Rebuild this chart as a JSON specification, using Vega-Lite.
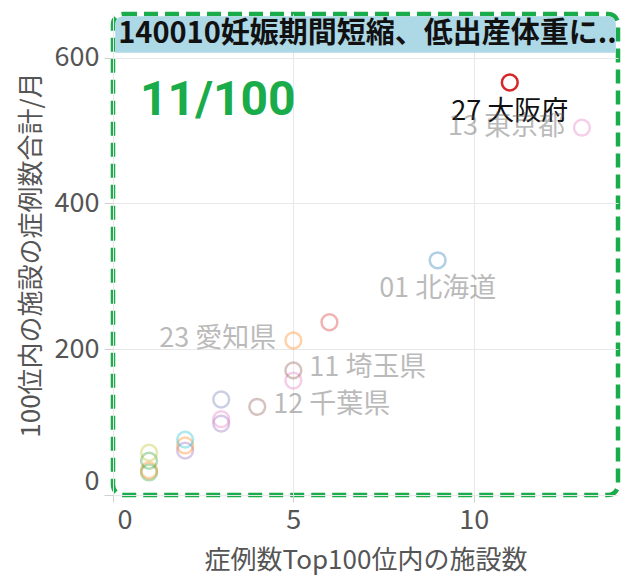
{
  "$schema": "https://vega.github.io/schema/vega-lite/v6.json",
  "autosize": "none",
  "padding": {"left": 113, "top": 14, "right": 7, "bottom": 89},
  "width": 505,
  "height": 481,
  "config": {
    "font": "Noto Sans CJK JP",
    "view": {"stroke": "#1aab4b", "strokeWidth": 4.5, "strokeDash": [14, 7], "cornerRadius": 10},
    "axis": {
      "labelFontSize": 27,
      "labelColor": "#555555",
      "titleFontSize": 26,
      "titleColor": "#555555",
      "titleFontWeight": "normal",
      "gridColor": "#e8e8e8",
      "tickColor": "#d0d0d0",
      "domain": false
    }
  },
  "layer": [
    {
      "data": {"values": [{}]},
      "mark": {"type": "rect", "fill": "#add8e6", "cornerRadiusTopLeft": 8, "cornerRadiusTopRight": 8},
      "encoding": {
        "x": {"datum": 0.06, "type": "quantitative", "scale": {"domain": [0, 14], "nice": false}},
        "x2": {"datum": 13.94},
        "y": {"datum": 607, "type": "quantitative", "scale": {"domain": [0, 660], "nice": false}},
        "y2": {"datum": 657}
      }
    },
    {
      "data": {"values": [{"title": "140010妊娠期間短縮、低出産体重に.."}]},
      "mark": {"type": "text", "align": "left", "baseline": "middle", "fontSize": 29, "fontWeight": "bold", "color": "#111111", "dx": 3},
      "encoding": {
        "x": {"datum": 0.06, "type": "quantitative"},
        "y": {"datum": 632, "type": "quantitative"},
        "text": {"field": "title"}
      }
    },
    {
      "data": {"values": [{"t": "11/100"}]},
      "mark": {"type": "text", "align": "left", "baseline": "middle", "fontSize": 48, "fontWeight": "bold", "color": "#1aab4b", "font": "Roboto"},
      "encoding": {
        "x": {"datum": 0.75, "type": "quantitative"},
        "y": {"datum": 540, "type": "quantitative"},
        "text": {"field": "t"}
      }
    },
    {
      "data": {"name": "pts"},
      "layer": [
        {
          "mark": {"type": "point", "shape": "circle", "filled": false, "strokeWidth": 2.5, "size": 250},
          "encoding": {
            "x": {
              "field": "n", "type": "quantitative",
              "scale": {"domain": [0, 14], "nice": false},
              "axis": {"title": "症例数Top100位内の施設数", "values": [0, 5, 10], "grid": true, "tickSize": 7, "labelPadding": 5, "titlePadding": 14, "labelFlush": true, "labelFlushOffset": -4}
            },
            "y": {
              "field": "cases", "type": "quantitative",
              "scale": {"domain": [0, 660], "nice": false},
              "axis": {"title": "100位内の施設の症例数合計/月", "values": [0, 200, 400, 600], "grid": true, "tickSize": 9, "labelPadding": 5, "titlePadding": 10, "labelFlush": true}
            },
            "color": {
              "field": "pref", "type": "nominal", "legend": null,
              "scale": {
                "domain": ["大阪府", "東京都", "北海道", "愛知県", "神奈川県", "埼玉県", "福岡県", "千葉県", "兵庫県", "京都府", "宮城県", "静岡県", "新潟県", "広島県", "長野県", "茨城県", "岡山県", "熊本県"],
                "range": ["#d62728", "#e377c2", "#1f77b4", "#ff7f0e", "#d62728", "#8c564b", "#e377c2", "#8c564b", "#6b78b4", "#e377c2", "#9467bd", "#17becf", "#ff7f0e", "#9467bd", "#bcbd22", "#2ca02c", "#ff7f0e", "#2ca02c"]
              }
            },
            "opacity": {"condition": {"test": "datum.pref === '大阪府'", "value": 1}, "value": 0.35}
          }
        },
        {
          "transform": [{"filter": {"field": "pref", "oneOf": ["大阪府", "北海道"]}}],
          "mark": {"type": "text", "align": "center", "baseline": "middle", "fontSize": 27, "dy": 29},
          "encoding": {
            "x": {"field": "n", "type": "quantitative"},
            "y": {"field": "cases", "type": "quantitative"},
            "text": {"field": "label"},
            "color": {"condition": {"test": "datum.pref === '大阪府'", "value": "#111111"}, "value": "#555555"},
            "opacity": {"condition": {"test": "datum.pref === '大阪府'", "value": 1}, "value": 0.4}
          }
        },
        {
          "transform": [{"filter": {"field": "pref", "oneOf": ["東京都", "愛知県"]}}],
          "mark": {"type": "text", "align": "right", "baseline": "middle", "fontSize": 27, "dx": -17, "dy": -1, "color": "#555555", "opacity": 0.4},
          "encoding": {
            "x": {"field": "n", "type": "quantitative"},
            "y": {"field": "cases", "type": "quantitative"},
            "text": {"field": "label"}
          }
        },
        {
          "transform": [{"filter": {"field": "pref", "oneOf": ["埼玉県", "千葉県"]}}],
          "mark": {"type": "text", "align": "left", "baseline": "middle", "fontSize": 27, "dx": 16, "dy": -2, "color": "#555555", "opacity": 0.4},
          "encoding": {
            "x": {"field": "n", "type": "quantitative"},
            "y": {"field": "cases", "type": "quantitative"},
            "text": {"field": "label"}
          }
        }
      ]
    }
  ],
  "datasets": {
    "pts": [
      {"pref": "熊本県", "label": "43 熊本県", "n": 1, "cases": 31},
      {"pref": "岡山県", "label": "33 岡山県", "n": 1, "cases": 34},
      {"pref": "茨城県", "label": "08 茨城県", "n": 1, "cases": 47},
      {"pref": "長野県", "label": "20 長野県", "n": 1, "cases": 58},
      {"pref": "広島県", "label": "34 広島県", "n": 2, "cases": 61},
      {"pref": "新潟県", "label": "15 新潟県", "n": 2, "cases": 68},
      {"pref": "静岡県", "label": "22 静岡県", "n": 2, "cases": 76},
      {"pref": "宮城県", "label": "04 宮城県", "n": 3, "cases": 98},
      {"pref": "京都府", "label": "26 京都府", "n": 3, "cases": 104},
      {"pref": "兵庫県", "label": "28 兵庫県", "n": 3, "cases": 131},
      {"pref": "千葉県", "label": "12 千葉県", "n": 4, "cases": 121},
      {"pref": "福岡県", "label": "40 福岡県", "n": 5, "cases": 157},
      {"pref": "埼玉県", "label": "11 埼玉県", "n": 5, "cases": 171},
      {"pref": "愛知県", "label": "23 愛知県", "n": 5, "cases": 212},
      {"pref": "神奈川県", "label": "14 神奈川県", "n": 6, "cases": 237},
      {"pref": "北海道", "label": "01 北海道", "n": 9, "cases": 322},
      {"pref": "東京都", "label": "13 東京都", "n": 13, "cases": 504},
      {"pref": "大阪府", "label": "27 大阪府", "n": 11, "cases": 566}
    ]
  }
}
